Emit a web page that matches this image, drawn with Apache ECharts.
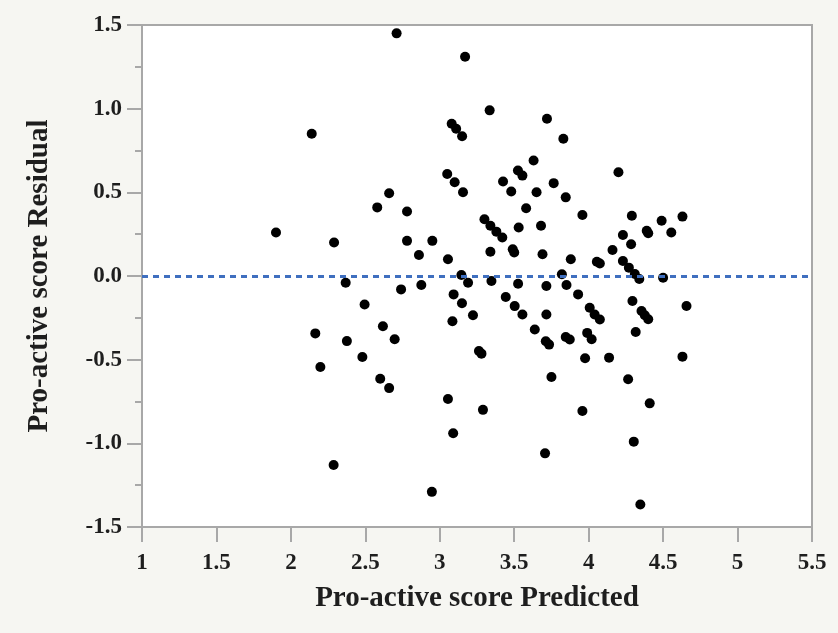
<!DOCTYPE html>
<html>
<head>
<meta charset="utf-8">
<script src="https://cdn.jsdelivr.net/npm/echarts@6/dist/echarts.min.js"></script>
<style>
html,body{margin:0;padding:0;background:#f6f6f2;}
#chart{width:838px;height:633px;}
</style>
</head>
<body>
<div id="chart"></div>
<script>
// Predicted values (x) and residuals (y)
const predicted = [
  1.90, 2.14, 2.29, 2.71, 3.17, 3.335, 3.08, 3.11, 3.15, 3.72,
  3.83, 3.63, 3.525, 3.555, 3.425, 3.48, 3.65, 3.765, 3.846, 3.958,
  3.05, 3.10, 3.156, 2.66, 2.58, 2.78, 3.58, 3.68, 3.53, 3.30,
  3.34, 3.38, 3.42, 2.78, 2.95, 2.86, 3.055, 3.34, 3.49, 3.50,
  3.69, 3.88, 4.055, 4.20, 4.29, 4.49, 4.63, 4.39, 4.40, 4.555,
  4.23, 4.285, 4.16, 4.075, 4.23, 4.27, 4.31, 4.34, 4.50, 3.82,
  3.145, 3.19, 3.347, 3.526, 3.716, 3.851, 2.74, 2.876, 3.093, 3.149,
  3.223, 3.085, 3.443, 3.503, 3.555, 3.716, 3.638, 3.712, 3.734, 3.846,
  3.873, 3.263, 3.28, 3.75, 3.055, 3.29, 3.09, 3.707, 2.495, 2.618,
  2.697, 2.48, 2.60, 2.66, 2.947, 3.958, 3.976, 3.929, 4.007, 4.04,
  4.075, 3.99, 4.02, 4.137, 4.294, 4.316, 4.355, 4.377, 4.40, 4.657,
  4.63, 4.265, 4.41, 4.303, 4.347, 2.368, 2.164, 2.376, 2.198, 2.287
];
const residual = [
  0.26, 0.85, 0.20, 1.45, 1.31, 0.99, 0.91, 0.88, 0.835, 0.94,
  0.82, 0.69, 0.63, 0.60, 0.565, 0.505, 0.50, 0.555, 0.47, 0.365,
  0.61, 0.56, 0.50, 0.495, 0.41, 0.385, 0.405, 0.30, 0.29, 0.339,
  0.30, 0.265, 0.23, 0.21, 0.21, 0.125, 0.10, 0.145, 0.16, 0.14,
  0.13, 0.10, 0.085, 0.62, 0.36, 0.33, 0.355, 0.27, 0.255, 0.26,
  0.245, 0.19, 0.155, 0.075, 0.09, 0.05, 0.012, -0.018, -0.01, 0.01,
  0.006, -0.04, -0.03, -0.046, -0.06, -0.054, -0.08, -0.054, -0.11, -0.163,
  -0.235, -0.27, -0.126, -0.18, -0.23, -0.23, -0.32, -0.39, -0.41, -0.365,
  -0.38, -0.448, -0.464, -0.604, -0.735, -0.80, -0.94, -1.06, -0.17, -0.30,
  -0.378, -0.484, -0.614, -0.67, -1.29, -0.807, -0.492, -0.11, -0.19, -0.23,
  -0.26, -0.34, -0.378, -0.488, -0.149, -0.335, -0.209, -0.235, -0.259, -0.179,
  -0.482, -0.617, -0.761, -0.99, -1.366, -0.04, -0.343, -0.389, -0.544, -1.13
];
const xTickValues = [1, 1.5, 2, 2.5, 3, 3.5, 4, 4.5, 5, 5.5];
const yTickValues = [-1.5, -1.0, -0.5, 0.0, 0.5, 1.0, 1.5];
const xTitle = 'Pro-active score Predicted';
const yTitle = 'Pro-active score Residual';
const referenceLine = 0;

const points = predicted.map((p, i) => [p, residual[i]]);
const fontFam = '"Liberation Serif", "DejaVu Serif", serif';
const axisGray = '#a8a8a8';

const chart = echarts.init(document.getElementById('chart'), null, {renderer: 'canvas'});
chart.setOption({
  backgroundColor: '#f6f6f2',
  animation: false,
  grid: {
    left: 142, right: 26, top: 25, bottom: 106,
    show: true, backgroundColor: '#ffffff', borderColor: axisGray, borderWidth: 2
  },
  xAxis: {
    type: 'value',
    min: xTickValues[0], max: xTickValues[xTickValues.length - 1], interval: 0.5,
    name: xTitle, nameLocation: 'middle', nameGap: 57,
    nameTextStyle: {fontFamily: fontFam, fontWeight: 'bold', fontSize: 29, color: '#1e1e1e'},
    axisLine: {show: true, onZero: false, lineStyle: {color: axisGray, width: 2}},
    axisTick: {show: true, length: 15, lineStyle: {color: axisGray, width: 2}},
    axisLabel: {
      margin: 25, fontFamily: fontFam, fontWeight: 'bold', fontSize: 23, color: '#1e1e1e',
      formatter: v => String(v)
    },
    splitLine: {show: false}
  },
  yAxis: {
    type: 'value',
    min: yTickValues[0], max: yTickValues[yTickValues.length - 1], interval: 0.5,
    name: yTitle, nameLocation: 'middle', nameGap: 88, nameRotate: 90,
    nameTextStyle: {fontFamily: fontFam, fontWeight: 'bold', fontSize: 29, color: '#1e1e1e'},
    axisLine: {show: true, onZero: false, lineStyle: {color: axisGray, width: 2}},
    axisTick: {show: true, length: 15, lineStyle: {color: axisGray, width: 2}},
    minorTick: {show: true, splitNumber: 2, length: 7, lineStyle: {color: axisGray, width: 2}},
    axisLabel: {
      margin: 20, fontFamily: fontFam, fontWeight: 'bold', fontSize: 23, color: '#1e1e1e',
      formatter: v => v.toFixed(1)
    },
    splitLine: {show: false}
  },
  series: [
    {
      type: 'line', data: [], z: 1, silent: true,
      markLine: {
        silent: true, symbol: ['none', 'none'], label: {show: false},
        lineStyle: {color: '#3f6fbf', width: 3, type: [6, 5], opacity: 1},
        data: [{yAxis: referenceLine}]
      }
    },
    {
      type: 'scatter', z: 3,
      symbol: 'circle', symbolSize: 10,
      itemStyle: {color: '#000000', opacity: 1},
      data: points
    }
  ]
});
</script>
</body>
</html>
